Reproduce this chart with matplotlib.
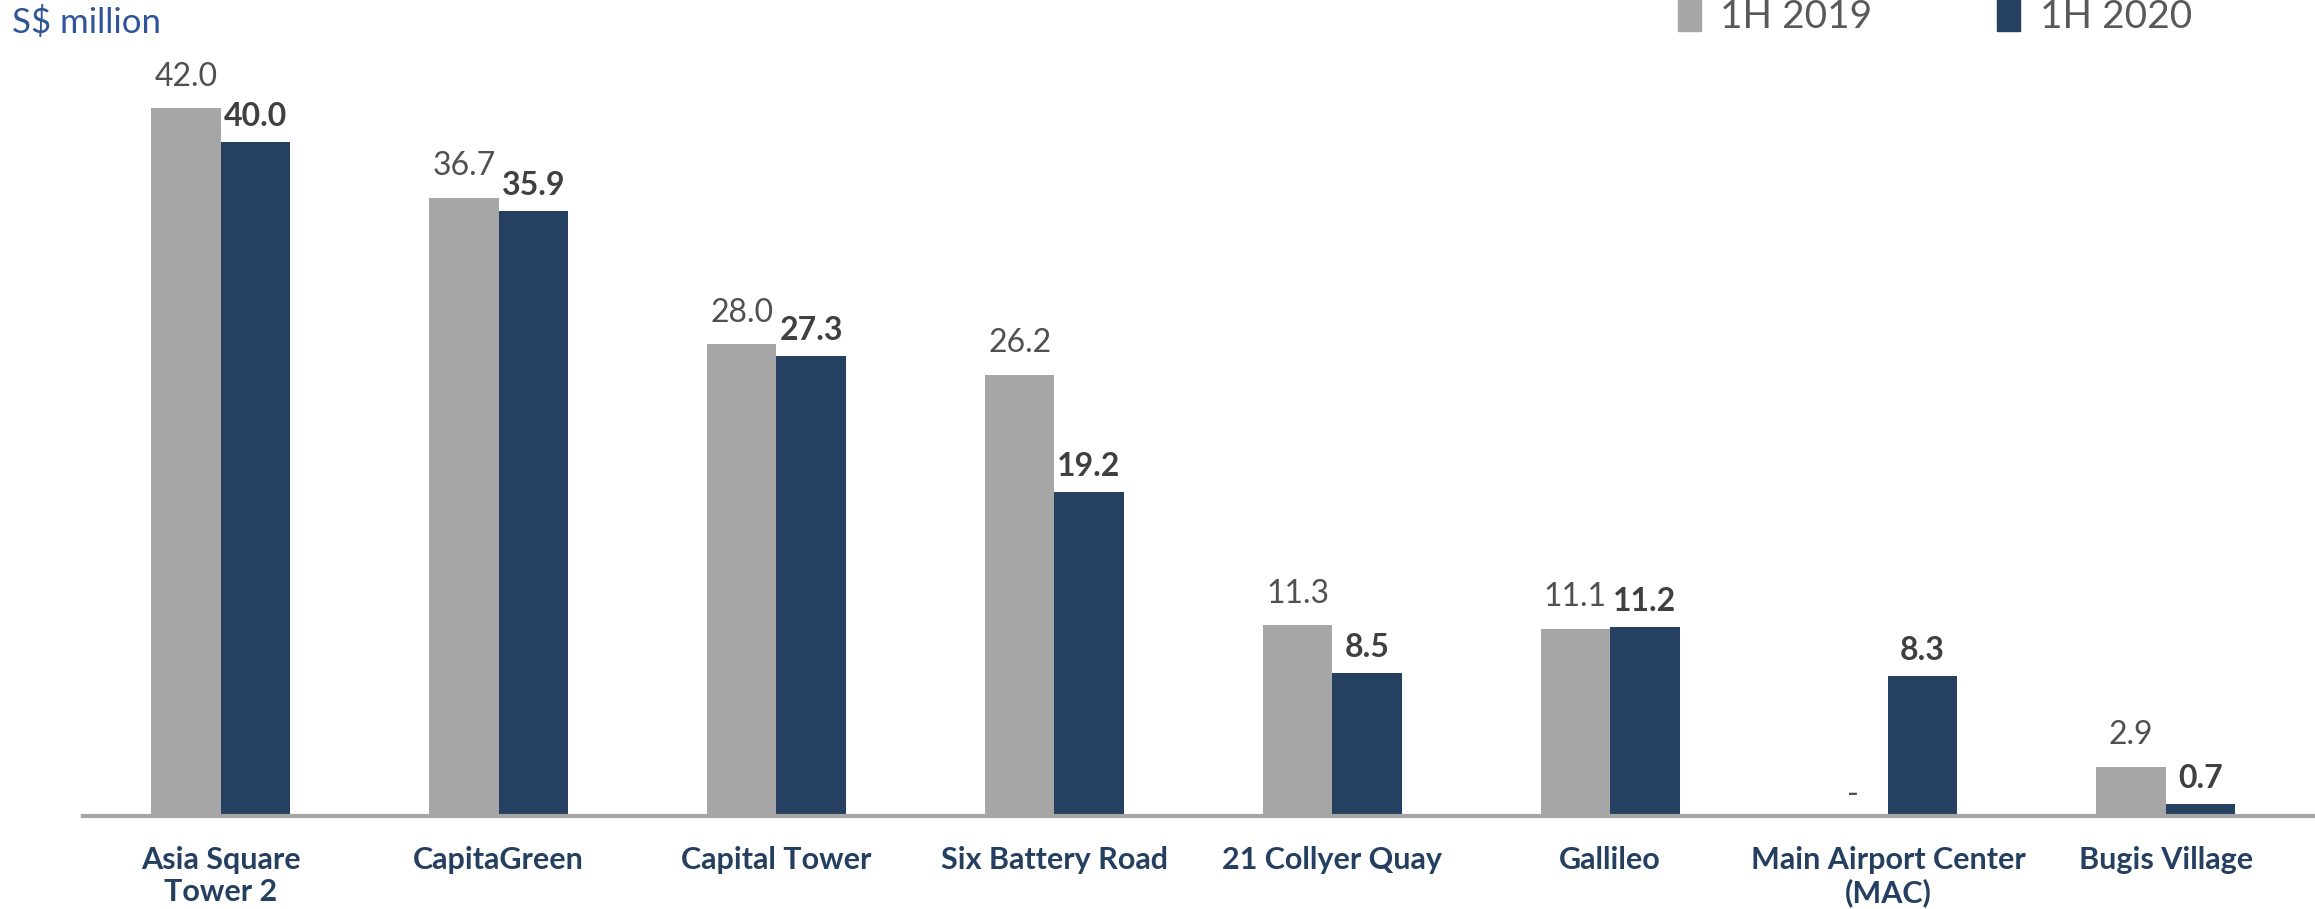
import matplotlib
matplotlib.use("Agg")
import matplotlib.pyplot as plt
from matplotlib.patches import Patch
import numpy as np

categories = ["Asia Square\nTower 2", "CapitaGreen", "Capital Tower", "Six Battery Road",
              "21 Collyer Quay", "Gallileo", "Main Airport Center\n(MAC)", "Bugis Village"]
vals_2019 = [42.0, 36.7, 28.0, 26.2, 11.3, 11.1, 0.0, 2.9]
labels_2019 = ["42.0", "36.7", "28.0", "26.2", "11.3", "11.1", "-", "2.9"]
vals_2020 = [40.0, 35.9, 27.3, 19.2, 8.5, 11.2, 8.3, 0.7]
series_names = ["1H 2019", "1H 2020"]

GRAY = "#A6A6A6"
NAVY = "#264061"
TXT = "#404040"

plt.rcParams['font.family'] = ['Lato', 'DejaVu Sans']

fig = plt.figure(figsize=(23.15, 9.09), dpi=100)
ax = fig.add_axes([0.0357, 0.1025, 0.9643, 0.8709])

x = np.arange(len(categories))
w = 0.25
ax.bar(x - w/2, vals_2019, w, color=GRAY, label=series_names[0])
ax.bar(x + w/2, vals_2020, w, color=NAVY, label=series_names[1])

for xi, v, lab in zip(x, vals_2019, labels_2019):
    off = 12 if lab != "-" else 4
    ax.annotate(lab, (xi - w/2, v), xytext=(0, off), textcoords="offset points",
                ha="center", va="bottom", fontsize=23, fontweight="normal", color="#505050")
for xi, v in zip(x, vals_2020):
    ax.annotate(f"{v:.1f}", (xi + w/2, v), xytext=(0, 8), textcoords="offset points",
                ha="center", va="bottom", fontsize=23, fontweight="bold", color=TXT)

ax.set_xlim(-0.497, 7.537)
ax.set_ylim(0, 47)
ax.set_xticks(x)
ax.set_xticklabels(categories, fontsize=22, fontweight="bold", color="#243F60", linespacing=1.15)
ax.tick_params(axis="x", length=0, pad=22)
ax.set_yticks([])
for s in ["top", "right", "left"]:
    ax.spines[s].set_visible(False)
ax.spines["bottom"].set_color("#A6A6A6")
ax.spines["bottom"].set_linewidth(3)

fig.text(0.005, 0.975, "S$ million", fontsize=25, color="#2F5597", ha="left", va="center")

handles = [Patch(color=GRAY), Patch(color=NAVY)]
fig.legend(handles, series_names, loc="upper right", bbox_to_anchor=(0.962, 1.04), ncol=2,
           frameon=False, fontsize=28, handlelength=0.6, handleheight=0.9,
           handletextpad=0.5, columnspacing=3.2, labelcolor="#595959")

fig.savefig("out.png", dpi=100)
